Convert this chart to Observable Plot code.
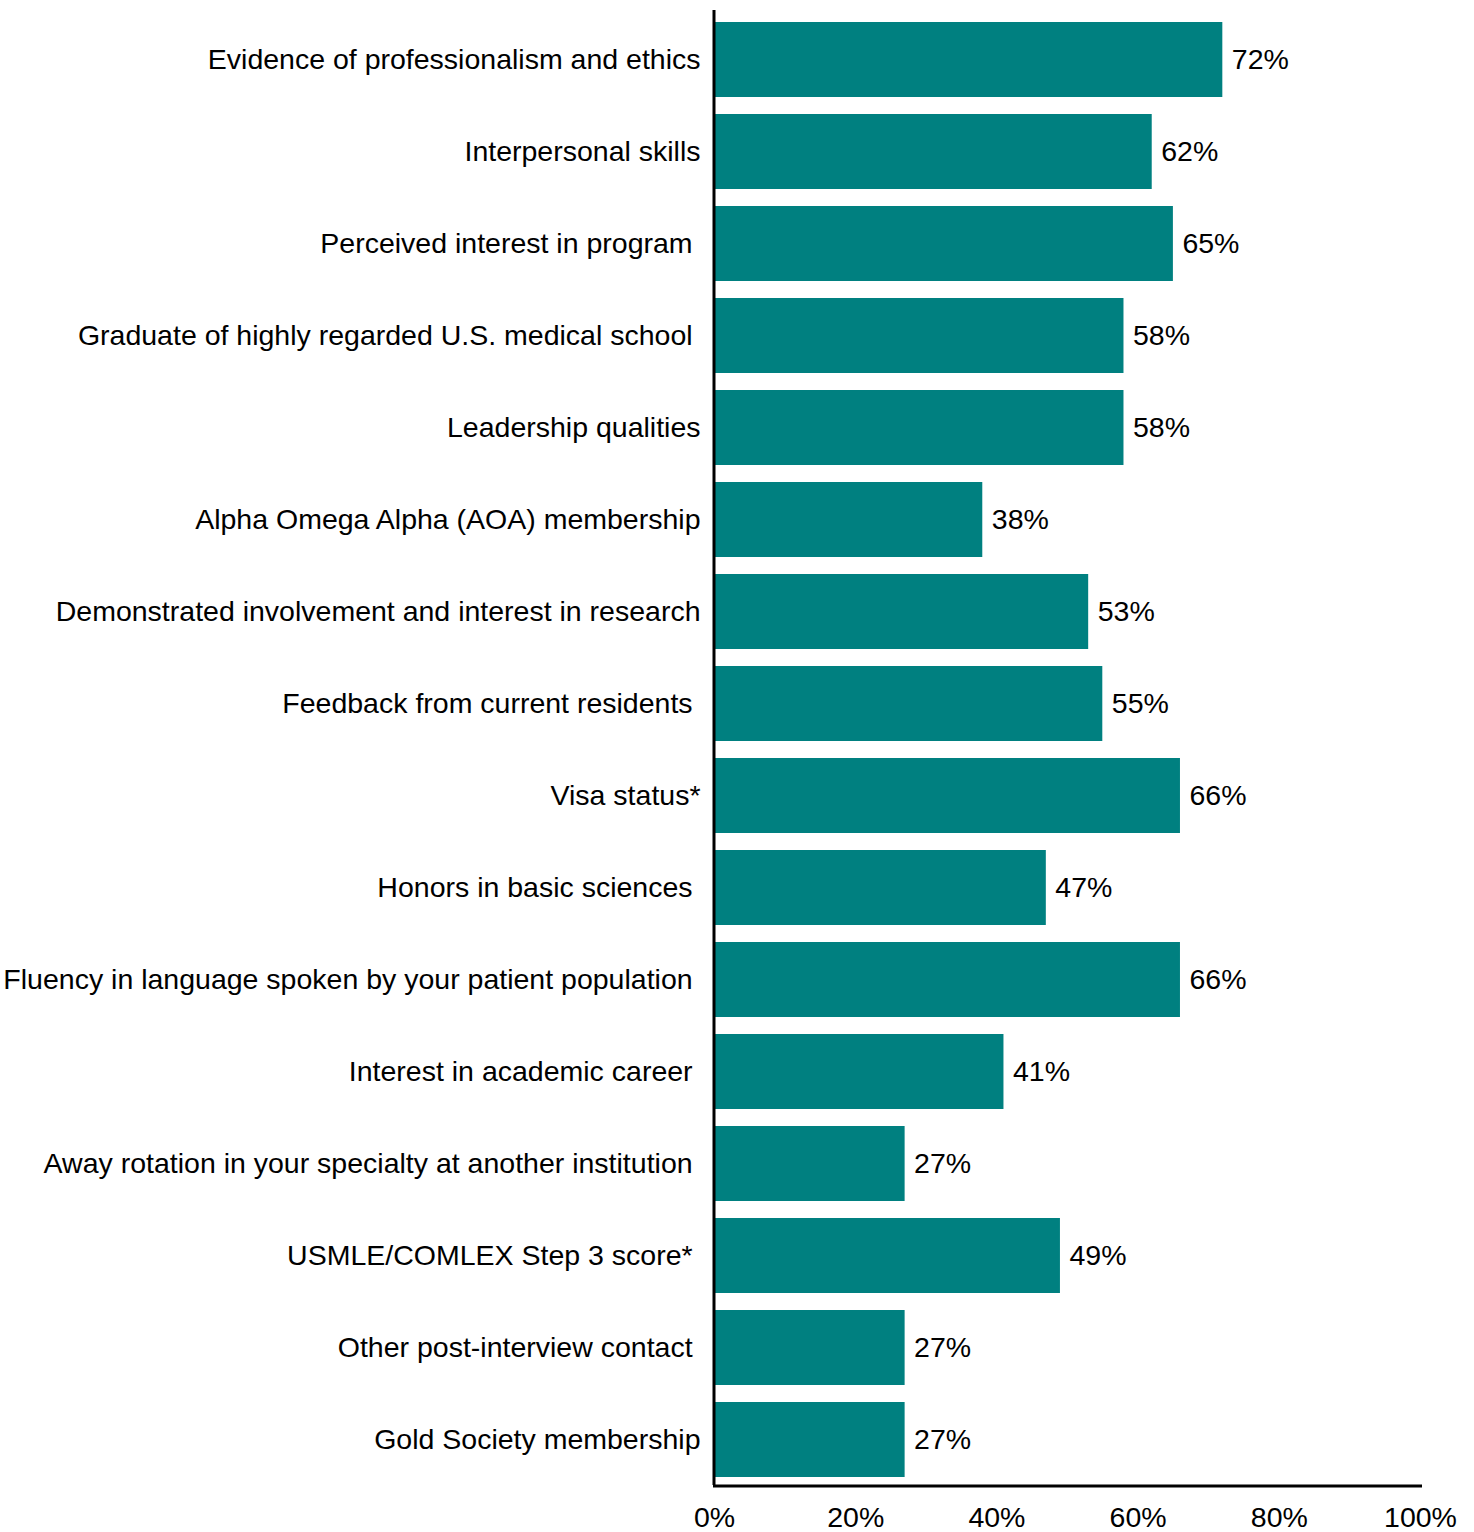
<!DOCTYPE html>
<html>
<head>
<meta charset="utf-8">
<script src="https://cdn.jsdelivr.net/npm/d3@7"></script>
<script src="https://cdn.jsdelivr.net/npm/@observablehq/plot@0.6"></script>
<style>
  html, body { margin: 0; padding: 0; background: #fff; }
  #chart svg { display: block; }
</style>
</head>
<body>
<div id="chart"></div>
<script>
const categories = [
  "Evidence of professionalism and ethics",
  "Interpersonal skills",
  "Perceived interest in program\u00a0",
  "Graduate of highly regarded U.S. medical school\u00a0",
  "Leadership qualities",
  "Alpha Omega Alpha (AOA) membership",
  "Demonstrated involvement and interest in research",
  "Feedback from current residents\u00a0",
  "Visa status*",
  "Honors in basic sciences\u00a0",
  "Fluency in language spoken by your patient population\u00a0",
  "Interest in academic career\u00a0",
  "Away rotation in your specialty at another institution\u00a0",
  "USMLE/COMLEX Step 3 score*\u00a0",
  "Other post-interview contact\u00a0",
  "Gold Society membership"
];
const values = [72, 62, 65, 58, 58, 38, 53, 55, 66, 47, 66, 41, 27, 49, 27, 27];
const xTicks = [0, 20, 40, 60, 80, 100];

const data = categories.map((c, i) => ({ category: c, value: values[i] }));

const chart = Plot.plot({
  width: 1474,
  height: 1532,
  marginTop: 10,
  marginBottom: 47,
  marginLeft: 714,
  marginRight: 54,
  style: { fontFamily: "Liberation Sans, Arial, sans-serif", fontSize: "28.5px", color: "#000", background: "#fff" },
  x: { domain: [0, 100] },
  y: { domain: categories, range: [10, 1488], paddingInner: 0.185, paddingOuter: 0.1 },
  marks: [
    Plot.barX(data, { x1: 0, x2: "value", y: "category", fill: "#008080", insetLeft: 1 }),
    Plot.text(data, { x: "value", y: "category", text: d => d.value + "%", textAnchor: "start", dx: 9, fill: "#000", fontSize: 28.5 }),
    Plot.frame({ anchor: "bottom", stroke: "#000", strokeWidth: 3, dy: 0.5 }),
    Plot.ruleX([0], { stroke: "#000", strokeWidth: 3, dx: -0.5 }),
    Plot.axisY({ tickSize: 0, tickPadding: 14, fontSize: 28.5, label: null, textOverflow: null, lineWidth: Infinity }),
    Plot.axisX({ ticks: xTicks, tickSize: 0, tickPadding: 21, tickFormat: d => d + "%", fontSize: 28.5, label: null })
  ]
});
document.getElementById("chart").appendChild(chart);
</script>
</body>
</html>
